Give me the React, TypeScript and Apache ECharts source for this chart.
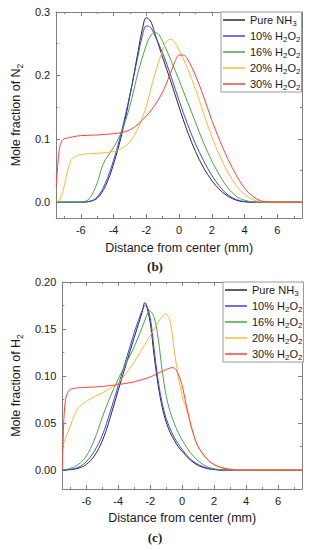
import React, { useEffect, useRef } from "react";
import * as echarts from "echarts";

// ---------- data ----------
const seriesNames = ["Pure NH3", "10% H2O2", "16% H2O2", "20% H2O2", "30% H2O2"];
const legendLabels = ["Pure NH{s|3}", "10% H{s|2}O{s|2}", "16% H{s|2}O{s|2}", "20% H{s|2}O{s|2}", "30% H{s|2}O{s|2}"];
const seriesColors = ["#2a2a2a", "#4040ff", "#45a845", "#ffb732", "#ff4040"];

const xLabelValues = [-6, -4, -2, 0, 2, 4, 6];
const xMinorValues = [-7, -5, -3, -1, 1, 3, 5, 7];
const n2LabelValues = [0, 0.1, 0.2, 0.3];
const n2MinorValues = [0.05, 0.15, 0.25];
const h2LabelValues = [0, 0.05, 0.1, 0.15, 0.2];
const h2MinorValues = [0.025, 0.075, 0.125, 0.175];

// (b) Mole fraction of N2
const n2Pure = [[-7.5, 0], [-6, 0], [-5.5, 0.001], [-5, 0.006], [-4.5, 0.025], [-4, 0.06], [-3.5, 0.107], [-3, 0.168], [-2.5, 0.238], [-2.25, 0.272], [-2, 0.291], [-1.75, 0.286], [-1.5, 0.268], [-1, 0.228], [-0.5, 0.19], [0, 0.15], [0.5, 0.112], [1, 0.08], [1.5, 0.054], [2, 0.034], [2.5, 0.019], [3, 0.009], [3.5, 0.003], [4, 0.0005], [4.5, 0], [7.5, 0]];
const n2H10 = [[-7.5, 0], [-6, 0], [-5.5, 0.001], [-5, 0.008], [-4.5, 0.03], [-4, 0.066], [-3.5, 0.113], [-3, 0.17], [-2.5, 0.232], [-2.25, 0.262], [-2, 0.278], [-1.75, 0.276], [-1.5, 0.264], [-1, 0.235], [-0.5, 0.199], [0, 0.16], [0.5, 0.124], [1, 0.092], [1.5, 0.065], [2, 0.042], [2.5, 0.024], [3, 0.011], [3.5, 0.004], [4, 0.001], [4.5, 0], [7.5, 0]];
const n2H16 = [[-7.5, 0], [-6, 0], [-5.5, 0.005], [-5, 0.03], [-4.75, 0.052], [-4.5, 0.067], [-4, 0.086], [-3.5, 0.112], [-3, 0.152], [-2.5, 0.205], [-2, 0.248], [-1.75, 0.262], [-1.5, 0.268], [-1.25, 0.265], [-1, 0.253], [-0.5, 0.224], [0, 0.192], [0.5, 0.159], [1, 0.126], [1.5, 0.093], [2, 0.065], [2.5, 0.041], [3, 0.022], [3.5, 0.009], [4, 0.003], [4.5, 0.0005], [5, 0], [7.5, 0]];
const n2H20 = [[-7.5, 0], [-7.25, 0.005], [-7, 0.026], [-6.75, 0.055], [-6.5, 0.069], [-6, 0.075], [-5, 0.077], [-4, 0.08], [-3.5, 0.085], [-3, 0.095], [-2.5, 0.117], [-2, 0.152], [-1.5, 0.2], [-1, 0.24], [-0.75, 0.254], [-0.5, 0.257], [-0.25, 0.252], [0, 0.24], [0.5, 0.212], [1, 0.178], [1.5, 0.14], [2, 0.103], [2.5, 0.072], [3, 0.046], [3.5, 0.026], [4, 0.012], [4.5, 0.004], [5, 0.001], [5.5, 0], [7.5, 0]];
const n2H30 = [[-7.5, 0.024], [-7.4, 0.06], [-7.3, 0.085], [-7.15, 0.097], [-7, 0.1], [-6.5, 0.103], [-6, 0.105], [-5, 0.106], [-4, 0.108], [-3.5, 0.11], [-3, 0.114], [-2.5, 0.123], [-2, 0.136], [-1.5, 0.152], [-1, 0.174], [-0.5, 0.205], [-0.25, 0.222], [0, 0.232], [0.25, 0.232], [0.5, 0.226], [1, 0.2], [1.5, 0.166], [2, 0.129], [2.5, 0.096], [3, 0.067], [3.5, 0.042], [4, 0.022], [4.5, 0.009], [5, 0.002], [5.5, 0], [7.5, 0]];

// (c) Mole fraction of H2
const h2Pure = [[-7.5, 0], [-7, 0.0005], [-6.5, 0.002], [-6, 0.006], [-5.5, 0.015], [-5, 0.031], [-4.5, 0.056], [-4, 0.085], [-3.5, 0.113], [-3, 0.141], [-2.5, 0.168], [-2.34, 0.178], [-2.25, 0.176], [-2, 0.157], [-1.75, 0.121], [-1.5, 0.09], [-1.25, 0.067], [-1, 0.051], [-0.75, 0.04], [-0.5, 0.032], [-0.25, 0.025], [0, 0.02], [0.5, 0.011], [1, 0.005], [1.5, 0.002], [2, 0.0007], [2.5, 0], [7.5, 0]];
const h2H10 = [[-7.5, 0], [-7, 0.001], [-6.5, 0.003], [-6, 0.009], [-5.5, 0.02], [-5, 0.037], [-4.5, 0.062], [-4, 0.09], [-3.5, 0.118], [-3, 0.146], [-2.5, 0.17], [-2.28, 0.1755], [-2, 0.162], [-1.75, 0.128], [-1.5, 0.095], [-1.25, 0.071], [-1, 0.055], [-0.75, 0.044], [-0.5, 0.035], [-0.25, 0.028], [0, 0.022], [0.5, 0.012], [1, 0.006], [1.5, 0.0025], [2, 0.001], [2.5, 0], [7.5, 0]];
const h2H16 = [[-7.5, 0], [-7, 0.002], [-6.5, 0.006], [-6, 0.015], [-5.5, 0.032], [-5, 0.056], [-4.5, 0.078], [-4, 0.097], [-3.5, 0.114], [-3, 0.131], [-2.5, 0.152], [-2.25, 0.163], [-2.04, 0.1695], [-1.75, 0.162], [-1.5, 0.14], [-1.25, 0.106], [-1, 0.079], [-0.75, 0.062], [-0.5, 0.05], [-0.25, 0.04], [0, 0.032], [0.5, 0.019], [1, 0.01], [1.5, 0.004], [2, 0.0015], [2.5, 0.0005], [3, 0], [7.5, 0]];
const h2H20 = [[-7.5, 0.025], [-7.25, 0.036], [-7, 0.047], [-6.75, 0.058], [-6.5, 0.066], [-6, 0.073], [-5.5, 0.078], [-5, 0.082], [-4.5, 0.087], [-4, 0.093], [-3.5, 0.103], [-3, 0.115], [-2.5, 0.129], [-2, 0.143], [-1.5, 0.157], [-1.25, 0.163], [-1.04, 0.166], [-0.75, 0.158], [-0.5, 0.128], [-0.25, 0.1], [0, 0.079], [0.25, 0.066], [0.5, 0.051], [0.75, 0.036], [1, 0.025], [1.5, 0.013], [2, 0.006], [2.5, 0.0025], [3, 0.001], [3.5, 0], [7.5, 0]];
const h2H30 = [[-7.5, 0], [-7.45, 0.03], [-7.4, 0.055], [-7.3, 0.075], [-7.15, 0.083], [-7, 0.086], [-6.5, 0.0875], [-6, 0.088], [-5, 0.089], [-4, 0.091], [-3, 0.094], [-2, 0.099], [-1.5, 0.103], [-1, 0.107], [-0.6, 0.109], [-0.4, 0.107], [-0.2, 0.1], [0, 0.09], [0.25, 0.07], [0.5, 0.051], [0.75, 0.036], [1, 0.025], [1.5, 0.013], [2, 0.006], [2.5, 0.0025], [3, 0.001], [3.5, 0], [7.5, 0]];

const n2Series = [n2Pure, n2H10, n2H16, n2H20, n2H30];
const h2Series = [h2Pure, h2H10, h2H16, h2H20, h2H30];

// ---------- styling ----------
const FONT = "'Liberation Sans', Arial, Helvetica, sans-serif";
const AXIS_COLOR = "#808080";
const TEXT_COLOR = "#1a1a1a";
const subRich = { s: { fontSize: 8, lineHeight: 8, verticalAlign: "bottom", fontFamily: FONT, color: TEXT_COLOR } };

function xAxes(grid: number, nameGap: number) {
  const base = { type: "value", gridIndex: grid, min: -7.5, max: 7.5, splitLine: { show: false } };
  const line = { show: true, onZero: false, lineStyle: { color: AXIS_COLOR, width: 1 } };
  const tick = (vals: number[], len: number) => ({ show: true, inside: true, length: len, customValues: vals, lineStyle: { color: AXIS_COLOR, width: 1 } });
  return [
    {
      ...base, position: "bottom", axisLine: line, axisTick: tick(xLabelValues, 4),
      axisLabel: { show: true, customValues: xLabelValues, margin: 6, color: TEXT_COLOR, fontSize: 11, fontFamily: FONT },
      name: "Distance from center (mm)", nameLocation: "middle", nameGap,
      nameTextStyle: { fontSize: 12.5, fontFamily: FONT, color: TEXT_COLOR, lineHeight: 15 },
    },
    { ...base, position: "bottom", axisLine: { show: false, onZero: false }, axisTick: tick(xMinorValues, 2), axisLabel: { show: false } },
    { ...base, position: "top", axisLine: line, axisTick: tick(xLabelValues, 4), axisLabel: { show: false } },
    { ...base, position: "top", axisLine: { show: false, onZero: false }, axisTick: tick(xMinorValues, 2), axisLabel: { show: false } },
  ];
}

function yAxes(grid: number, min: number, max: number, labels: number[], minor: number[], decimals: number, name: string, nameGap: number) {
  const base = { type: "value", gridIndex: grid, min, max, splitLine: { show: false } };
  const line = { show: true, onZero: false, lineStyle: { color: AXIS_COLOR, width: 1 } };
  const tick = (vals: number[], len: number) => ({ show: true, inside: true, length: len, customValues: vals, lineStyle: { color: AXIS_COLOR, width: 1 } });
  return [
    {
      ...base, position: "left", axisLine: line, axisTick: tick(labels, 4),
      axisLabel: { show: true, customValues: labels, margin: 6, color: TEXT_COLOR, fontSize: 11, fontFamily: FONT, formatter: (v: number) => v.toFixed(decimals) },
      name, nameLocation: "middle", nameGap,
      nameTextStyle: { fontSize: 12.5, fontFamily: FONT, color: TEXT_COLOR, lineHeight: 16, rich: { s: { fontSize: 8.5, lineHeight: 8, verticalAlign: "bottom", fontFamily: FONT, color: TEXT_COLOR } } },
    },
    { ...base, position: "left", axisLine: { show: false, onZero: false }, axisTick: tick(minor, 2), axisLabel: { show: false } },
    { ...base, position: "right", axisLine: line, axisTick: tick(labels, 4), axisLabel: { show: false } },
    { ...base, position: "right", axisLine: { show: false, onZero: false }, axisTick: tick(minor, 2), axisLabel: { show: false } },
  ];
}

function legendFor(left: number, top: number) {
  return {
    data: seriesNames, orient: "vertical", left, top, icon: "rect", itemWidth: 22, itemHeight: 1.5, itemGap: 2,
    itemStyle: { borderWidth: 0 },
    padding: [1, 1, 1, 2], borderColor: "#999999", borderWidth: 1, backgroundColor: "#ffffff", selectedMode: false,
    formatter: (name: string) => legendLabels[seriesNames.indexOf(name)],
    textStyle: { fontSize: 11, fontFamily: FONT, color: TEXT_COLOR, lineHeight: 14, rich: subRich },
  };
}

function makeSeries(sets: number[][][], axisIndex: number) {
  return sets.map((d, i) => ({
    type: "line", name: seriesNames[i], xAxisIndex: axisIndex, yAxisIndex: axisIndex, data: d,
    showSymbol: false, symbol: "none", smooth: 0.35,
    lineStyle: { width: 1, color: seriesColors[i] }, itemStyle: { color: seriesColors[i] },
  }));
}

export default function App() {
  const ref = useRef<HTMLDivElement>(null);
  useEffect(() => {
    if (!ref.current) return;
    const chart = echarts.init(ref.current, undefined, { renderer: "svg" });
    chart.setOption({
      animation: false,
      backgroundColor: "#ffffff",
      grid: [
        { left: 45, right: 8, top: 12, height: 206 },
        { left: 50, right: 8, top: 282, height: 207 },
      ],
      xAxis: [...xAxes(0, 22.5), ...xAxes(1, 21.5)],
      yAxis: [
        ...yAxes(0, -0.025, 0.3, n2LabelValues, n2MinorValues, 1, "Mole fraction of N{s|2}", 24),
        ...yAxes(1, -0.02, 0.2, h2LabelValues, h2MinorValues, 2, "Mole fraction of H{s|2}", 29),
      ],
      legend: [legendFor(221, 12), legendFor(223, 282)],
      series: [...makeSeries(n2Series, 0), ...makeSeries(h2Series, 4)],
      graphic: [
        { type: "text", x: 155, y: 266, style: { text: "(b)", font: "bold 13px 'Liberation Serif', 'Times New Roman', serif", fill: "#222222", textAlign: "center", textVerticalAlign: "middle", align: "center", verticalAlign: "middle" } },
        { type: "text", x: 155, y: 537, style: { text: "(c)", font: "bold 13px 'Liberation Serif', 'Times New Roman', serif", fill: "#222222", textAlign: "center", textVerticalAlign: "middle", align: "center", verticalAlign: "middle" } },
      ],
    });
    return () => chart.dispose();
  }, []);
  return <div ref={ref} style={{ position: "absolute", left: 0, top: 0, width: 310, height: 550 }} />;
}
